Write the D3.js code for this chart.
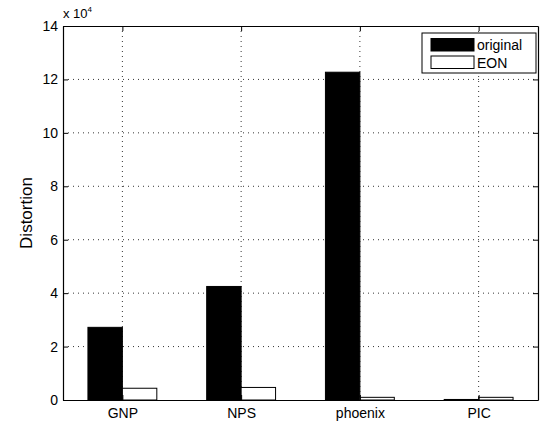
<!DOCTYPE html>
<html lang="en">
<head>
<meta charset="UTF-8">
<title>Distortion</title>
<script src="https://cdn.jsdelivr.net/npm/d3@7"></script>
<style>
    body { margin: 0; background: #fff; }
    text { font-family: "Liberation Sans", Arial, sans-serif; fill: #000; }
</style>
</head>
<body>
<svg id="chart"></svg>
<script>
    // Data (units of 10^4)
    var categories = ["GNP", "NPS", "phoenix", "PIC"];
    var series = ["original", "EON"];
    var original = [2.72, 4.25, 12.27, 0.02];
    var eon = [0.44, 0.47, 0.1, 0.1];
    var yTicks = [0, 2, 4, 6, 8, 10, 12, 14];

    var W = 541, H = 426;
    var margin = { top: 26, right: 3, bottom: 26, left: 63 },
        width = W - margin.left - margin.right,
        height = H - margin.top - margin.bottom;

    var svg = d3.select("#chart").attr("width", W).attr("height", H);
    var g = svg.append("g")
        .attr("transform", "translate(" + margin.left + "," + margin.top + ")");

    var x = d3.scaleLinear().domain([0.5, 4.5]).range([0, width]);
    var y = d3.scaleLinear().domain([0, 14]).range([height, 0]);
    var barW = 0.29;

    // grid
    g.selectAll(".vgrid").data(categories).enter().append("line")
        .attr("x1", (d, i) => x(i + 1)).attr("x2", (d, i) => x(i + 1))
        .attr("y1", 0).attr("y2", height)
        .attr("stroke", "#000").attr("stroke-width", 0.8)
        .attr("stroke-dasharray", "1,4");
    g.selectAll(".hgrid").data(yTicks.slice(1, -1)).enter().append("line")
        .attr("x1", 0).attr("x2", width)
        .attr("y1", d => y(d)).attr("y2", d => y(d))
        .attr("stroke", "#000").attr("stroke-width", 0.8)
        .attr("stroke-dasharray", "1,4");

    // bars
    var vals = [original, eon];
    var fills = ["#000", "#fff"];
    vals.forEach(function (arr, s) {
        g.selectAll(".bar" + s).data(arr).enter().append("rect")
            .attr("x", (d, i) => x(i + 1 + (s - 1) * barW))
            .attr("width", x(barW) - x(0))
            .attr("y", d => y(d))
            .attr("height", d => y(0) - y(d))
            .attr("fill", fills[s])
            .attr("stroke", "#000").attr("stroke-width", 1);
    });

    // axes (MATLAB style, inward ticks, boxed)
    var tl = 5;
    var xAxis = d3.axisBottom(x).tickValues([1, 2, 3, 4])
        .tickFormat((d) => categories[d - 1]).tickSizeInner(-tl).tickSizeOuter(0).tickPadding(8);
    var yAxis = d3.axisLeft(y).tickValues(yTicks).tickSizeInner(-tl).tickSizeOuter(0).tickPadding(5);

    var ax = g.append("g").attr("transform", "translate(0," + height + ")").call(xAxis);
    var ay = g.append("g").call(yAxis);
    var axTop = g.append("g").call(d3.axisTop(x).tickValues([1, 2, 3, 4]).tickSizeInner(-tl).tickSizeOuter(0).tickFormat(""));
    var ayRight = g.append("g").attr("transform", "translate(" + width + ",0)")
        .call(d3.axisRight(y).tickValues(yTicks).tickSizeInner(-tl).tickSizeOuter(0).tickFormat(""));

    [ax, ay, axTop, ayRight].forEach(function (a) {
        a.select(".domain").attr("stroke", "#000").attr("stroke-width", 1.2);
        a.selectAll(".tick line").attr("stroke", "#000");
        a.selectAll("text").style("font-size", "14px")
            .style("font-family", "'Liberation Sans', Arial, sans-serif");
    });

    // exponent label
    var ex = svg.append("text").attr("x", margin.left).attr("y", 18).style("font-size", "13px");
    ex.append("tspan").text("x 10");
    ex.append("tspan").attr("dy", -6).style("font-size", "8px").text("4");

    // y label
    svg.append("text")
        .attr("transform", "translate(32," + (margin.top + height / 2) + ") rotate(-90)")
        .attr("text-anchor", "middle")
        .style("font-size", "17px")
        .text("Distortion");

    // legend
    var lg = svg.append("g").attr("transform", "translate(422,33)");
    lg.append("rect").attr("width", 114).attr("height", 40)
        .attr("fill", "#fff").attr("stroke", "#000").attr("stroke-width", 1);
    series.forEach(function (name, i) {
        lg.append("rect").attr("x", 9).attr("y", 5.5 + i * 17.5)
            .attr("width", 43).attr("height", 12.5)
            .attr("fill", fills[i]).attr("stroke", "#000").attr("stroke-width", 1);
        lg.append("text").attr("x", 55).attr("y", 17 + i * 17.5)
            .style("font-size", "14px").text(name);
    });
</script>
</body>
</html>
